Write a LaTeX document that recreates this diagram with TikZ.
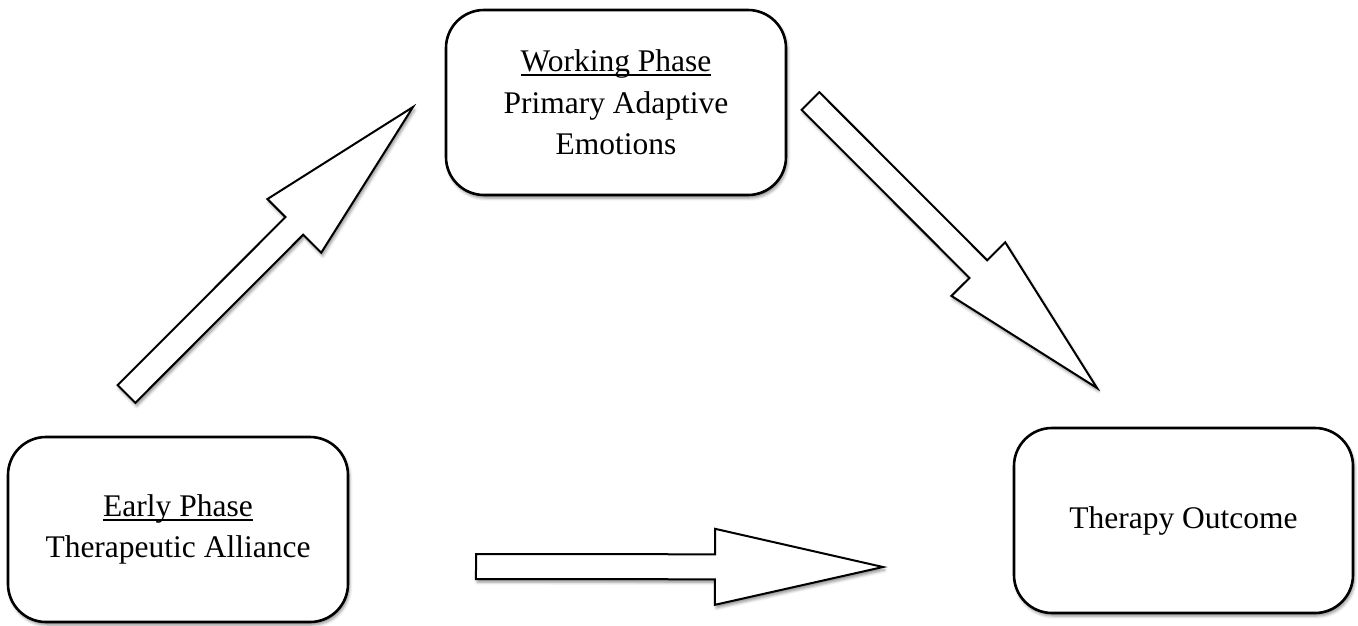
\documentclass[tikz,border=0pt]{standalone}
\usepackage{fontspec}
\setmainfont{Liberation Serif}
\usepackage{tikz}
\usetikzlibrary{calc,shadows.blur}

\newcommand{\phasetitle}[1]{\setbox0\hbox{#1}\rlap{\rule[-4.5pt]{\wd0}{1.8pt}}\box0}
\newcommand{\blockarrow}[2]{%
  \coordinate (neck) at ($(#2)!168pt!(#1)$);
  \draw[blockarrow] ($(#1)!12.5pt!90:(#2)$) -- ($(neck)!12.5pt!-90:(#1)$)
    -- ($(neck)!38pt!-90:(#1)$) -- (#2) -- ($(neck)!38pt!90:(#1)$)
    -- ($(neck)!12.5pt!90:(#1)$) -- ($(#1)!12.5pt!-90:(#2)$) -- cycle;
}

\begin{document}
\begin{tikzpicture}[x=1pt, y=-1pt,
    phasebox/.style={draw, line width=2.6pt, rounded corners=38pt, fill=white,
      minimum width=340pt, minimum height=185pt, align=center,
      font=\fontsize{31.5}{41.5}\selectfont,
      blur shadow={shadow xshift=1.5pt, shadow yshift=-3pt, shadow blur radius=3pt, shadow opacity=45}},
    blockarrow/.style={draw, line width=2pt, fill=white, line join=miter,
      blur shadow={shadow xshift=1.5pt, shadow yshift=-3pt, shadow blur radius=3pt, shadow opacity=45}}]
  \useasboundingbox (0,0) rectangle (1358,625);

  \node[phasebox] (early) at (178,529.5) {\phasetitle{Early Phase}\\Therapeutic Alliance};
  \node[phasebox] (working) at (616,102.5) {\phasetitle{Working Phase}\\Primary Adaptive\\Emotions};
  \node[phasebox, minimum width=339pt] (outcome) at (1183.5,520.5) {Therapy Outcome};

  \coordinate (upTail) at (126.5,394);
  \coordinate (upTip) at (413,107);
  \coordinate (downTail) at (810.5,101);
  \coordinate (downTip) at (1097,388);
  \coordinate (flatTail) at (476,566.5);
  \coordinate (flatTip) at (883,567);

  \blockarrow{upTail}{upTip}
  \blockarrow{downTail}{downTip}
  \blockarrow{flatTail}{flatTip}
\end{tikzpicture}
\end{document}
